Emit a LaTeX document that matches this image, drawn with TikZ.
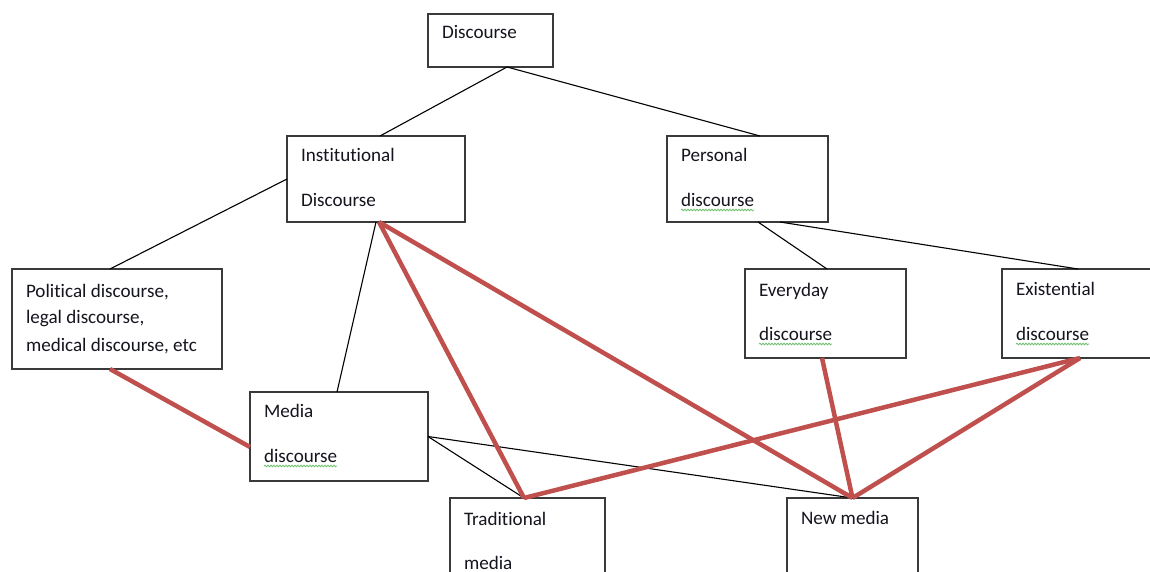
\documentclass[tikz,border=0pt]{standalone}
\usepackage{fontspec}
\setmainfont{Carlito}[Ligatures={NoCommon}]
\usetikzlibrary{decorations.pathmorphing}
\definecolor{redline}{HTML}{C0504D}
\definecolor{boxline}{HTML}{3A3A3A}
\definecolor{squigcol}{HTML}{6CBF6C}
\definecolor{txtcol}{HTML}{15151F}
\begin{document}
\begin{tikzpicture}[x=1pt,y=-1pt,
  box/.style={draw=boxline, line width=1.3pt, fill=white, inner sep=0pt, outer sep=0pt},
  txt/.style={anchor=base west, inner sep=0pt, outer sep=0pt, text=txtcol, font=\fontsize{19.1}{22}\selectfont},
  thin/.style={draw=black, line width=1.1pt},
  thick/.style={draw=redline, line width=4.5pt},
  squig/.style={draw=squigcol, line width=0.8pt, decorate, decoration={snake, amplitude=0.8pt, segment length=3pt}}]
\useasboundingbox (0,0) rectangle (1150,572);
\fill[white] (0,0) rectangle (1150,572);

% boxes
\node[box, minimum width=125pt, minimum height=53pt] (disc) at (490.5,40.5) {};
\node[box, minimum width=178pt, minimum height=86pt] (inst) at (376,179) {};
\node[box, minimum width=161pt, minimum height=86pt] (pers) at (747.5,179) {};
\node[box, minimum width=210pt, minimum height=100pt] (pol) at (117,319) {};
\node[box, minimum width=161pt, minimum height=89pt] (every) at (825.5,313.5) {};
\node[box, minimum width=163pt, minimum height=89pt] (exist) at (1083.5,313.5) {};
\node[box, minimum width=178pt, minimum height=89pt] (media) at (339,436.5) {};
\node[box, minimum width=155pt, minimum height=92pt] (trad) at (527.5,544) {};
\node[box, minimum width=131pt, minimum height=92pt] (newm) at (852.5,544) {};

% texts
\node[txt] (discT) at (442,39) {Discourse};
\node[txt] (instT1) at (301,162) {Institutional};
\node[txt] (instT2) at (301,207) {Discourse};
\node[txt] (persT1) at (681,162) {Personal};
\node[txt] (persT2) at (681,206) {discourse};
\node[txt] (polT1) at (26,297) {Political discourse,};
\node[txt] (polT2) at (26,323) {legal discourse,};
\node[txt] (polT3) at (26,351) {medical discourse, etc};
\node[txt] (everyT1) at (759,296) {Everyday};
\node[txt] (everyT2) at (759,340) {discourse};
\node[txt] (existT1) at (1016,295) {Existential};
\node[txt] (existT2) at (1016,340) {discourse};
\node[txt] (mediaT1) at (264,417) {Media};
\node[txt] (mediaT2) at (264,462) {discourse};
\node[txt] (tradT1) at (464,525) {Traditional};
\node[txt] (tradT2) at (464,569) {media};
\node[txt] (newmT) at (801,524) {New media};

% spell-check squiggles
\draw[squig] ([yshift=-4pt]persT2.base west) -- ([yshift=-4pt]persT2.base east);
\draw[squig] ([yshift=-4pt]everyT2.base west) -- ([yshift=-4pt]everyT2.base east);
\draw[squig] ([yshift=-4pt]existT2.base west) -- ([yshift=-4pt]existT2.base east);
\draw[squig] ([yshift=-4pt]mediaT2.base west) -- ([yshift=-4pt]mediaT2.base east);

% black connectors
\draw[thin] ([xshift=16.5pt]disc.south) -- ([xshift=4pt]inst.north);
\draw[thin] ([xshift=16.5pt]disc.south) -- ([xshift=12.5pt]pers.north);
\draw[thin] (inst.west) -- ([xshift=-7pt]pol.north);
\draw[thin] (inst.south) -- ([xshift=-2pt]media.north);
\draw[thin] ([xshift=10.5pt]pers.south) -- ([xshift=1.5pt]every.north);
\draw[thin] ([xshift=32.5pt]pers.south) -- ([xshift=-5.5pt]exist.north);
\draw[thin] (media.east) -- ([xshift=-3.5pt]trad.north);
\draw[thin] (media.east) -- (newm.north);

% red connectors
\draw[thick] ([xshift=-7pt]pol.south) -- ([yshift=-10.5pt]media.west);
\draw[thick] ([xshift=3pt]inst.south) -- ([xshift=-3.5pt]trad.north);
\draw[thick] ([xshift=3pt]inst.south) -- (newm.north);
\draw[thick] ([xshift=-3.5pt]every.south) -- (newm.north);
\draw[thick] ([xshift=-3.5pt]exist.south) -- (newm.north);
\draw[thick] ([xshift=-3.5pt]exist.south) -- ([xshift=-3.5pt]trad.north);
\end{tikzpicture}
\end{document}
